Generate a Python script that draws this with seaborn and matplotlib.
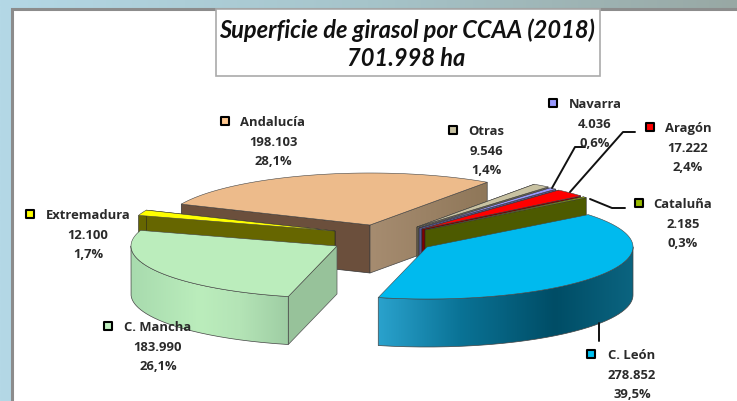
#!/usr/bin/env python
from matplotlib import pyplot as plt
from matplotlib.colors import LinearSegmentedColormap, to_rgb
from matplotlib.patches import Polygon
import seaborn as sns
import numpy as np

categories = ['C. León', 'C. Mancha', 'Extremadura', 'Andalucía', 'Otras', 'Navarra', 'Aragón', 'Cataluña']
hectares = [278852, 183990, 12100, 198103, 9546, 4036, 17222, 2185]
title_lines = ['Superficie de girasol por CCAA (2018)', '701.998 ha']

sns.set_theme(style="white")
plt.rcParams['font.family'] = ['Open Sans', 'DejaVu Sans']

top_colors = sns.color_palette(['#00baee', '#bbedbc', '#ffff00', '#edbb8b', '#c8c2a2', '#9999ff', '#ff0000', '#99bb00'])
key_colors = sns.color_palette(['#00c0f0', '#c0f0c0', '#ffff00', '#ffc890', '#c8c2a2', '#9999ff', '#ff0000', '#99bb00'])
face_colors = ['#00506a', '#97c29a', '#666600', '#6b4f3c', '#6f6a58', '#55558f', '#800000', '#4d5a00']

# each slice is pulled out of the pie, so every one has its own tip (pixels)
tips = [(427, 248), (337, 247), (335, 232), (370, 226), (417, 228), (419, 229), (422, 230), (425, 231)]
rx, ry, depth = 206, 52, 48
start_angle = 51.5

# name centre x, name y, key x
label_pos = [(632, 356, 591), (158, 328, 108), (88, 216, 30), (273, 123, 225),
             (486, 132, 453), (595, 105, 553), (688, 129, 650), (683, 205, 639)]
leaders = [[(599, 324), (599, 342)], [(552, 189), (575, 148), (585, 148)],
           [(570, 193), (623, 133), (635, 133)], [(590, 200), (612, 209), (625, 209)]]

# horizontal shading, stops are pixel x and colour
rim_stops = {0: [(378, '#2aa2cd'), (460, '#0a7396'), (555, '#004d66'), (633, '#0b6480')],
             1: [(132, '#a8dbae'), (200, '#bbedbc'), (240, '#b4e4b6'), (287, '#9fcea4')]}
cut_stops = {3: [(370, '#a68c70'), (487, '#8f7759')]}

fmt = lambda v: f'{v:,}'.replace(',', '.')
total = sum(hectares)
spans = [v / total * 360 for v in hectares]
starts = start_angle + np.cumsum([0] + spans[:-1])


def rim_xy(tip, angle):
    a = np.radians(angle)
    return tip[0] + rx * np.sin(a), tip[1] - ry * np.cos(a)


def shaded(ax, xs, ys, stops, z):
    # fill a polygon with a left to right gradient, no seams
    px = np.arange(int(min(xs)) - 1, int(max(xs)) + 2)
    sx = [s[0] for s in stops]
    sc = np.array([to_rgb(s[1]) for s in stops])
    row = np.stack([np.interp(px, sx, sc[:, c]) for c in range(3)], axis=1)[None, :, :]
    im = ax.imshow(row, extent=(px[0], px[-1], max(ys), min(ys)), aspect='auto', zorder=z, interpolation='bilinear')
    clip = Polygon(np.c_[xs, ys], transform=ax.transData)
    im.set_clip_path(clip)
    ax.plot(np.r_[xs, xs[0]], np.r_[ys, ys[0]], color='#444444', lw=0.5, zorder=z)


def cut_face(tip, p):
    return [tip[0], p[0], p[0], tip[0]], [tip[1], p[1], p[1] + depth, tip[1] + depth]


f, ax = plt.subplots(figsize=(7.37, 4.02), dpi=100)
ax.set_position([0, 0, 1, 1])
ax.axis('off')

# window behind the chart
band = LinearSegmentedColormap.from_list('band', ['#b4d8e6', '#a6c4ca', '#98a8a4'])
ax.imshow(np.linspace(0, 1, 256).reshape(1, -1), cmap=band, extent=(0, 737, 402, 0), aspect='auto', zorder=0)
ax.fill([12, 760, 760, 12], [10, 10, 420, 420], fc='white', ec='#8c8c8c', lw=2.2, zorder=1)

# title box
ax.fill([216, 600, 600, 216], [10, 10, 77, 77], fc='white', ec='#aaaaaa', lw=1.2, zorder=2)
for line, y in zip(title_lines, [30, 59]):
    ax.text(406.5, y, line, ha='center', va='center', fontsize=17, style='italic', weight='bold',
            family=['Lato', 'DejaVu Sans'], color='#111111', zorder=3)

z = 4
draw_order = [3, 4, 5, 6, 7, 2, 1, 0]
for i in draw_order:
    tip = tips[i]
    a0, a1 = starts[i], starts[i] + spans[i]
    p0 = rim_xy(tip, a0)
    p1 = rim_xy(tip, a1)

    # straight cut faces
    if i == 3:
        xs, ys = cut_face(tip, p0)
        ax.fill(xs, ys, fc=face_colors[i], ec='#333333', lw=0.5, zorder=z)
        xs, ys = cut_face(tip, p1)
        shaded(ax, xs, ys, cut_stops[i], z)
    elif i == 1:
        xs, ys = cut_face(tip, p0)
        ax.fill(xs, ys, fc=face_colors[i], ec='#555555', lw=0.5, zorder=z)
    elif i != 0:
        for p in (p0, p1):
            xs, ys = cut_face(tip, p)
            ax.fill(xs, ys, fc=face_colors[i], ec='#222222', lw=0.4, zorder=z)

    # curved rim, only where it faces the viewer
    lo, hi = max(a0, 90), min(a1, 270)
    if hi > lo and i in rim_stops:
        pts = np.array([rim_xy(tip, a) for a in np.linspace(lo, hi, 160)])
        shaded(ax, np.r_[pts[:, 0], pts[::-1, 0]], np.r_[pts[:, 1], pts[::-1, 1] + depth], rim_stops[i], z)

    # top of the slice
    angs = np.linspace(a0, a1, max(int(spans[i] * 2), 4))
    pts = np.array([rim_xy(tip, a) for a in angs])
    ax.fill(np.r_[tip[0], pts[:, 0]], np.r_[tip[1], pts[:, 1]], fc=top_colors[i], ec='#444444', lw=0.4, zorder=z)
    z += 1

# leader lines
for line in leaders:
    xs, ys = zip(*line)
    ax.plot(xs, ys, color='#111111', lw=1.4, zorder=20)

# labels with their keys
for i, name in enumerate(categories):
    x, y, kx = label_pos[i]
    pct = f'{hectares[i] / total * 100:.1f}%'.replace('.', ',')
    for k, txt in enumerate([name, fmt(hectares[i]), pct]):
        ax.text(x, y + 19.5 * k, txt, ha='center', va='center', fontsize=9.4, weight='bold', color='#2a2a2a', zorder=21)
    ax.scatter([kx], [y - 1], marker='s', s=38, color=key_colors[i], edgecolor='black', linewidth=1.5, zorder=21)

ax.set_xlim(0, 737)
ax.set_ylim(402, 0)
f.savefig('out.png', dpi=100)
